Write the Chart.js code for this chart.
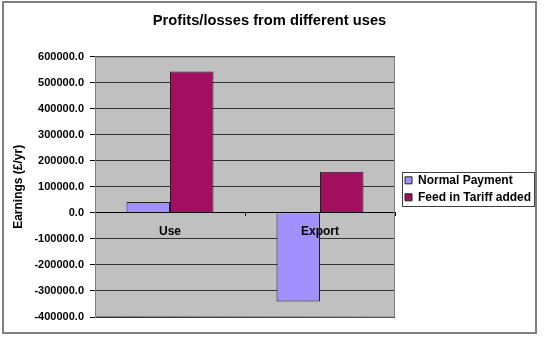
<!DOCTYPE html>
<html>
<head>
<meta charset="utf-8">
<script src="https://cdn.jsdelivr.net/npm/chart.js@4.4.1/dist/chart.umd.min.js"></script>
<style>
html,body{margin:0;padding:0;background:#fff;}
canvas{display:block;}
</style>
</head>
<body>
<canvas id="c" width="544" height="340"></canvas>
<script>
const categories = ["Use", "Export"];
const seriesNames = ["Normal Payment", "Feed in Tariff added"];
const normalPayment = [42000, -340000];
const feedInTariff = [543000, 158000];
const yTicks = [600000, 500000, 400000, 300000, 200000, 100000, 0, -100000, -200000, -300000, -400000];

const FONT = 'Arial, "Liberation Sans", sans-serif';

const decor = {
  id: 'decor',
  beforeLayout(chart) {
    const lg = chart.legend;
    if (lg && !lg.__patched) {
      const fit = lg.fit;
      lg.fit = function () { fit.call(this); this.width = 137; };
      lg.__patched = true;
    }
  },
  afterLayout(chart) {
    const lg = chart.legend;
    if (lg) { lg.left += 5; lg.right += 5; lg.top += 2; lg.bottom += 2; }
  },
  beforeDraw(chart) {
    const {ctx, chartArea: a} = chart;
    ctx.save();
    ctx.fillStyle = '#ffffff';
    ctx.fillRect(0, 0, chart.width, chart.height);
    ctx.fillStyle = '#C0C0C0';
    ctx.fillRect(a.left, a.top, a.right - a.left, a.bottom - a.top);
    ctx.restore();
  },
  afterDraw(chart) {
    const {ctx, chartArea: a} = chart;
    ctx.save();
    // plot frame (top/right/bottom)
    ctx.strokeStyle = '#808080';
    ctx.lineWidth = 1;
    ctx.beginPath();
    ctx.moveTo(a.left, a.top + 0.5);
    ctx.lineTo(a.right - 0.5, a.top + 0.5);
    ctx.lineTo(a.right - 0.5, a.bottom);
    ctx.lineTo(a.left, a.bottom - 0.5);
    ctx.stroke();
    // legend border
    const lg = chart.legend;
    if (lg) {
      const cy = (lg.top + lg.bottom) / 2;
      const l = Math.round(lg.left + 2) + 0.5;
      const t = Math.round(cy - 17) + 0.5;
      ctx.strokeStyle = '#404040';
      ctx.lineWidth = 1;
      ctx.strokeRect(l, t, 132, 34);
    }
    // outer frame
    ctx.strokeStyle = '#808080';
    ctx.lineWidth = 2;
    ctx.strokeRect(3, 2, 533, 331);
    ctx.restore();
  }
};

new Chart(document.getElementById('c'), {
  type: 'bar',
  data: {
    labels: categories,
    datasets: [
      { label: seriesNames[0], data: normalPayment, backgroundColor: '#A290FF', borderColor: '#202020', borderWidth: 1 },
      { label: seriesNames[1], data: feedInTariff, backgroundColor: '#A30F60', borderColor: '#202020', borderWidth: 1 }
    ]
  },
  options: {
    responsive: false,
    animation: false,
    events: [],
    layout: { padding: { left: 7, right: 12, top: 0, bottom: 23 } },
    datasets: { bar: { categoryPercentage: 0.58, barPercentage: 1.0 } },
    plugins: {
      title: {
        display: true,
        text: 'Profits/losses from different uses',
        color: '#000',
        font: { family: FONT, size: 14.7, weight: 'bold' },
        padding: { top: 12, bottom: 27 }
      },
      legend: {
        display: true,
        position: 'right',
        fullSize: false,
        align: 'center',
        labels: {
          color: '#000',
          font: { family: FONT, size: 12, weight: 'bold' },
          boxWidth: 7,
          boxHeight: 7,
          padding: 5
        }
      },
      tooltip: { enabled: false }
    },
    scales: {
      x: {
        position: { y: 0 },
        offset: true,
        grid: { display: true, drawOnChartArea: false, drawTicks: true, tickLength: 3, color: '#000', offset: true },
        border: { display: true, color: '#000', width: 1 },
        ticks: { z: 1, color: '#000', font: { family: FONT, size: 12, weight: 'bold' }, padding: 9, maxRotation: 0 }
      },
      y: {
        min: -400000,
        max: 600000,
        afterFit(scale) { scale.width = 88; },
        afterBuildTicks(scale) { scale.ticks = yTicks.slice().reverse().map(v => ({ value: v })); },
        grid: { color: '#333333', lineWidth: 1, drawTicks: true, tickLength: 5, tickColor: '#000' },
        border: { display: true, color: '#808080', width: 1 },
        ticks: {
          color: '#000',
          padding: 6,
          font: { family: FONT, size: 11, weight: 'bold' },
          callback: v => Number(v).toFixed(1)
        },
        title: {
          display: true,
          text: 'Earnings (£/yr)',
          color: '#000',
          font: { family: FONT, size: 12, weight: 'bold' },
          padding: { top: 4, bottom: 4 }
        }
      }
    }
  },
  plugins: [decor]
});
</script>
</body>
</html>
